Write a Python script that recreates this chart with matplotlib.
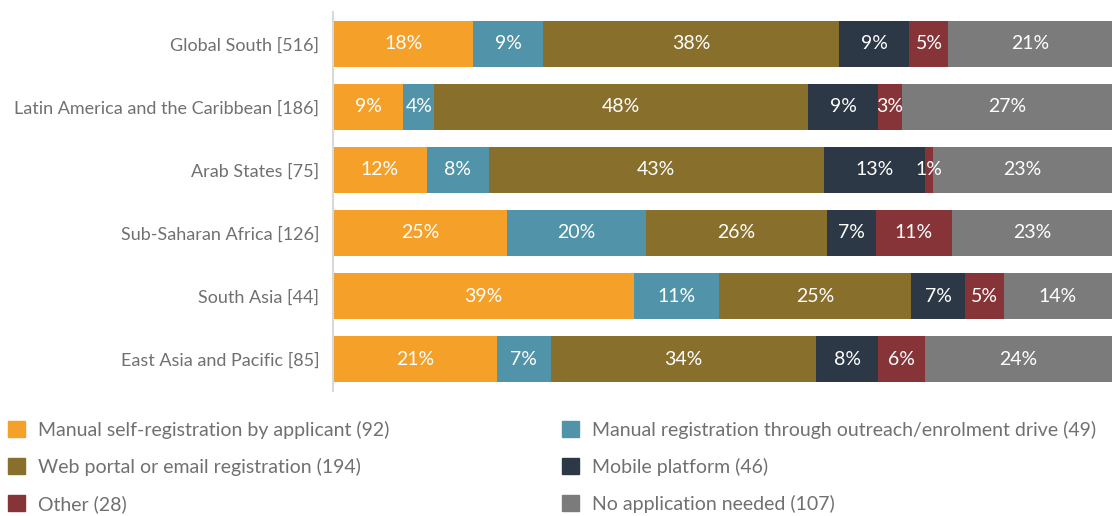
import numpy as np
import matplotlib.pyplot as plt
from matplotlib.patches import Patch

plt.rcParams['font.family'] = ['Lato', 'DejaVu Sans']

regions = ['Global South [516]', 'Latin America and the Caribbean [186]', 'Arab States [75]',
           'Sub-Saharan Africa [126]', 'South Asia [44]', 'East Asia and Pacific [85]']
categories = ['Manual self-registration by applicant (92)',
              'Manual registration through outreach/enrolment drive (49)',
              'Web portal or email registration (194)',
              'Mobile platform (46)',
              'Other (28)',
              'No application needed (107)']
colors = ['#F5A028', '#5193A8', '#896F2C', '#2C3845', '#873438', '#7B7B7B']

# percentages as labelled, one list per category (rows in region order)
manual_self = [18, 9, 12, 25, 39, 21]
outreach = [9, 4, 8, 20, 11, 7]
web_portal = [38, 48, 43, 26, 25, 34]
mobile = [9, 9, 13, 7, 7, 8]
other = [5, 3, 1, 11, 5, 6]
no_app = [21, 27, 23, 23, 14, 24]

values = np.array([manual_self, outreach, web_portal, mobile, other, no_app], dtype=float)
shares = values / values.sum(axis=0)  # bars are scaled to full width

fig = plt.figure(figsize=(11.12, 5.16), dpi=100)
ax = fig.add_axes([0.2995, 0.2432, 0.7005, 0.7326])

y = np.arange(len(regions))
left = np.zeros(len(regions))
for i in range(len(categories)):
    bars = ax.barh(y, shares[i], left=left, height=0.73, color=colors[i], label=categories[i])
    for j, b in enumerate(bars):
        ax.text(left[j] + shares[i][j] / 2, y[j], f'{int(values[i][j])}%',
                ha='center', va='center', color='white', fontsize=14)
    left += shares[i]

ax.set_xlim(0, 1)
ax.set_ylim(len(regions) - 0.5, -0.5)
ax.set_yticks(y)
ax.set_yticklabels(regions, fontsize=13, color='#707070')
ax.tick_params(axis='y', length=0, pad=10)
ax.set_xticks([])
for s in ['top', 'right', 'bottom']:
    ax.spines[s].set_visible(False)
ax.spines['left'].set_color('#D9D9D9')
ax.spines['left'].set_linewidth(1.5)

handles = [Patch(color=c) for c in colors]
leg_kw = dict(loc='upper left', frameon=False, fontsize=14, labelcolor='#707070',
              handlelength=0.9, handleheight=0.9, handletextpad=0.65,
              labelspacing=0.98, borderaxespad=0)
fig.legend(handles[0::2], categories[0::2], bbox_to_anchor=(0.0, 0.2), **leg_kw)
fig.legend(handles[1::2], categories[1::2], bbox_to_anchor=(0.498, 0.2), **leg_kw)

fig.savefig('out.png', dpi=100)
